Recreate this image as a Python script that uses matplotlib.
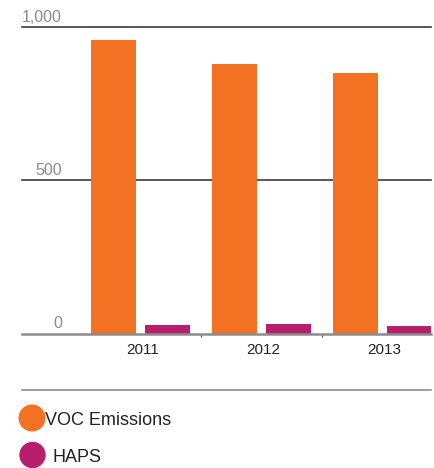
import numpy as np
import matplotlib.pyplot as plt
import matplotlib.transforms as mtransforms
from matplotlib.patches import Circle

# data
years = ["2011", "2012", "2013"]
voc_emissions = [956, 878, 848]
haps = [28, 31, 24]
y_ticks = [0, 500, 1000]
y_labels = ["0", "500", "1,000"]

ORANGE = "#F27123"
MAGENTA = "#B71E6E"
GRID = "#3a3a3a"
AXIS = "#8c8c8c"
TXT = "#222222"
LABEL = "#8a8a8a"

W, H = 435, 468
fig = plt.figure(figsize=(W / 100, H / 100), dpi=100)
plt.rcParams["font.family"] = ["Liberation Sans", "DejaVu Sans"]

# axes placed in pixel terms of the reference
left, right, bottom, top = 22, 431, 333.5, 26.5
ax = fig.add_axes([left / W, (H - bottom) / H, (right - left) / W, (bottom - top) / H])

x = np.arange(len(years))
width = 0.372
offset = 0.223
ax.bar(x - offset, voc_emissions, width=width, color=ORANGE, zorder=1)
ax.bar(x + offset, haps, width=width, color=MAGENTA, zorder=1)

ax.set_xlim(-0.979, 2.40)
ax.set_ylim(0, 1000)

for s in ax.spines.values():
    s.set_visible(False)

# grid lines and zero line
for v in y_ticks[1:]:
    ax.axhline(v, color=GRID, linewidth=1.2, zorder=0, clip_on=False)
ax.axhline(0, color=AXIS, linewidth=1.8, zorder=2, clip_on=False)

# y labels sit above their lines, right aligned
lab_tr = mtransforms.offset_copy(ax.get_yaxis_transform(), fig=fig, x=0, y=3.6, units="points")
for v, lab in zip(y_ticks, y_labels):
    ax.text((62 - left) / (right - left), v, lab, ha="right", va="baseline",
            fontsize=11.5, color=LABEL, transform=lab_tr)
ax.set_yticks([])

# year labels, nudged a little right like the reference
year_tr = mtransforms.offset_copy(ax.get_xaxis_transform(), fig=fig, x=1.5, y=0, units="points")
for xi, yr in zip(x, years):
    ax.text(xi, -0.055, yr, ha="center", va="center", fontsize=11, color=TXT,
            transform=year_tr)
ax.set_xticks([])
ax.set_xticks([0.5, 1.5], minor=True)
ax.tick_params(axis="x", which="minor", length=2, width=0.8, color="#555555")

# legend drawn in pixel coordinates
lg = fig.add_axes([0, 0, 1, 1], zorder=-1)
lg.set_xlim(0, W)
lg.set_ylim(H, 0)
lg.axis("off")
lg.plot([22, 431], [390, 390], color=AXIS, linewidth=1.2)
lg.add_patch(Circle((32, 418), 12.8, color=ORANGE))
lg.add_patch(Circle((32.5, 455), 12.5, color=MAGENTA))
lg.text(45, 420.5, "VOC Emissions", fontsize=13, color=TXT, va="center", ha="left")
lg.text(53, 457, "HAPS", fontsize=13, color=TXT, va="center", ha="left")

fig.savefig("out.png", dpi=100)
